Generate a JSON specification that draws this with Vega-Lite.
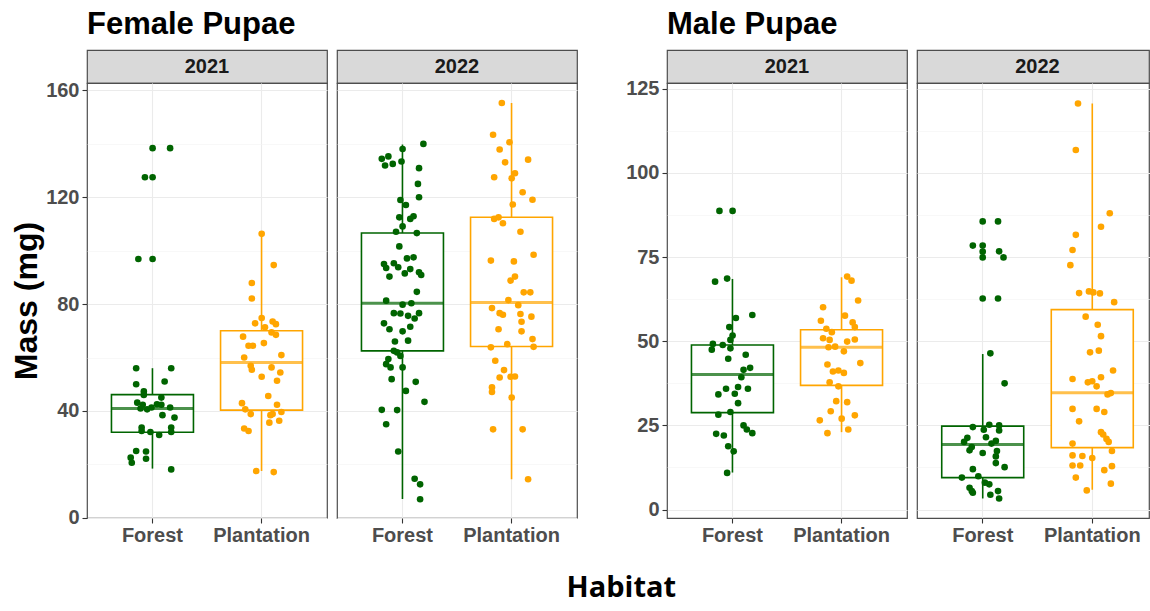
{
  "$schema": "https://vega.github.io/schema/vega-lite/v6.json",
  "padding": {"left": 10, "top": 9, "right": 0, "bottom": 6},
  "background": "white",
  "config": {
    "font": "Liberation Sans",
    "view": {"stroke": "#4D4D4D", "strokeWidth": 1.2},
    "axis": {"labelFont": "Liberation Sans", "labelFontSize": 20, "labelFontWeight": "bold", "labelColor": "#4D4D4D", "tickColor": "#333333", "tickSize": 5, "tickWidth": 1.1, "domain": false, "titleFont": "Liberation Sans", "titleFontWeight": "bold", "titleColor": "#000000"},
    "title": {"font": "Liberation Sans", "fontWeight": "bold", "color": "#000000"}
  },
  "title": {"text": "Habitat", "orient": "bottom", "anchor": "middle", "font": "Open Sans", "fontSize": 29, "offset": 28, "dx": 37},
  "datasets": {
    "boxes": [
      {"sex": "Female", "year": "2021", "habitat": "Forest", "lower": 18.4, "q1": 32, "median": 40.9, "q3": 46.1, "upper": 56},
      {"sex": "Female", "year": "2021", "habitat": "Plantation", "lower": 17.5, "q1": 40.3, "median": 58.1, "q3": 70, "upper": 106.3},
      {"sex": "Female", "year": "2022", "habitat": "Forest", "lower": 7, "q1": 62.5, "median": 80.3, "q3": 106.6, "upper": 139.8},
      {"sex": "Female", "year": "2022", "habitat": "Plantation", "lower": 14.4, "q1": 64.1, "median": 80.6, "q3": 112.5, "upper": 155.3},
      {"sex": "Male", "year": "2021", "habitat": "Forest", "lower": 11, "q1": 28.8, "median": 40.1, "q3": 48.9, "upper": 68.5},
      {"sex": "Male", "year": "2021", "habitat": "Plantation", "lower": 23, "q1": 36.9, "median": 48.2, "q3": 53.4, "upper": 69},
      {"sex": "Male", "year": "2022", "habitat": "Forest", "lower": 3.3, "q1": 9.5, "median": 19.3, "q3": 24.8, "upper": 46.2},
      {"sex": "Male", "year": "2022", "habitat": "Plantation", "lower": 5.9, "q1": 18.4, "median": 34.7, "q3": 59.4, "upper": 120.6}
    ],
    "female_2021": [
      {"habitat": "Forest", "mass": 138.4, "jitter": 0}, {"habitat": "Forest", "mass": 138.4, "jitter": 0.16}, {"habitat": "Forest", "mass": 127.5, "jitter": -0.07}, {"habitat": "Forest", "mass": 127.5, "jitter": 0}, {"habitat": "Forest", "mass": 96.9, "jitter": -0.13}, {"habitat": "Forest", "mass": 96.9, "jitter": 0}, {"habitat": "Forest", "mass": 56, "jitter": -0.15}, {"habitat": "Forest", "mass": 56, "jitter": 0.17}, {"habitat": "Forest", "mass": 50, "jitter": -0.15}, {"habitat": "Forest", "mass": 51, "jitter": 0.11}, {"habitat": "Forest", "mass": 47.3, "jitter": -0.08}, {"habitat": "Forest", "mass": 46, "jitter": -0.08}, {"habitat": "Forest", "mass": 45, "jitter": 0.08}, {"habitat": "Forest", "mass": 43.1, "jitter": -0.14}, {"habitat": "Forest", "mass": 42.3, "jitter": -0.09}, {"habitat": "Forest", "mass": 42.5, "jitter": 0.04}, {"habitat": "Forest", "mass": 42.3, "jitter": 0.08}, {"habitat": "Forest", "mass": 40.9, "jitter": -0.11}, {"habitat": "Forest", "mass": 40.6, "jitter": -0.05}, {"habitat": "Forest", "mass": 41.3, "jitter": -0.01}, {"habitat": "Forest", "mass": 41.3, "jitter": 0.16}, {"habitat": "Forest", "mass": 38.4, "jitter": 0.09}, {"habitat": "Forest", "mass": 37.5, "jitter": 0.2}, {"habitat": "Forest", "mass": 33.8, "jitter": -0.1}, {"habitat": "Forest", "mass": 32.5, "jitter": -0.1}, {"habitat": "Forest", "mass": 32.1, "jitter": -0.02}, {"habitat": "Forest", "mass": 31, "jitter": 0.06}, {"habitat": "Forest", "mass": 33.8, "jitter": 0.17}, {"habitat": "Forest", "mass": 32.1, "jitter": 0.17}, {"habitat": "Forest", "mass": 25, "jitter": -0.15}, {"habitat": "Forest", "mass": 24.8, "jitter": -0.06}, {"habitat": "Forest", "mass": 22.5, "jitter": -0.2}, {"habitat": "Forest", "mass": 22.1, "jitter": -0.06}, {"habitat": "Forest", "mass": 20.6, "jitter": -0.19}, {"habitat": "Forest", "mass": 18.1, "jitter": 0.17},
      {"habitat": "Plantation", "mass": 106.3, "jitter": 0}, {"habitat": "Plantation", "mass": 94.6, "jitter": 0.11}, {"habitat": "Plantation", "mass": 87.9, "jitter": -0.09}, {"habitat": "Plantation", "mass": 82.1, "jitter": -0.09}, {"habitat": "Plantation", "mass": 74.8, "jitter": 0}, {"habitat": "Plantation", "mass": 72.8, "jitter": -0.06}, {"habitat": "Plantation", "mass": 71.3, "jitter": 0.03}, {"habitat": "Plantation", "mass": 73.5, "jitter": 0.1}, {"habitat": "Plantation", "mass": 72.5, "jitter": 0.13}, {"habitat": "Plantation", "mass": 67.8, "jitter": -0.17}, {"habitat": "Plantation", "mass": 69.4, "jitter": 0.09}, {"habitat": "Plantation", "mass": 68.5, "jitter": 0.13}, {"habitat": "Plantation", "mass": 64.4, "jitter": -0.12}, {"habitat": "Plantation", "mass": 64.4, "jitter": -0.08}, {"habitat": "Plantation", "mass": 65.4, "jitter": 0.02}, {"habitat": "Plantation", "mass": 60, "jitter": -0.16}, {"habitat": "Plantation", "mass": 60.9, "jitter": 0.18}, {"habitat": "Plantation", "mass": 56.9, "jitter": -0.1}, {"habitat": "Plantation", "mass": 55.4, "jitter": -0.09}, {"habitat": "Plantation", "mass": 56.3, "jitter": 0.09}, {"habitat": "Plantation", "mass": 54.4, "jitter": 0.17}, {"habitat": "Plantation", "mass": 52.8, "jitter": 0}, {"habitat": "Plantation", "mass": 51.3, "jitter": 0.14}, {"habitat": "Plantation", "mass": 45.6, "jitter": 0.06}, {"habitat": "Plantation", "mass": 42.9, "jitter": -0.18}, {"habitat": "Plantation", "mass": 40.6, "jitter": -0.15}, {"habitat": "Plantation", "mass": 42.3, "jitter": 0.14}, {"habitat": "Plantation", "mass": 38.8, "jitter": -0.1}, {"habitat": "Plantation", "mass": 38.8, "jitter": 0.1}, {"habitat": "Plantation", "mass": 39.6, "jitter": 0.18}, {"habitat": "Plantation", "mass": 38.4, "jitter": 0.08}, {"habitat": "Plantation", "mass": 36.3, "jitter": 0.16}, {"habitat": "Plantation", "mass": 35.6, "jitter": 0.07}, {"habitat": "Plantation", "mass": 33.4, "jitter": -0.16}, {"habitat": "Plantation", "mass": 32.5, "jitter": -0.12}, {"habitat": "Plantation", "mass": 17.5, "jitter": -0.05}, {"habitat": "Plantation", "mass": 17.1, "jitter": 0.11}
    ],
    "female_2022": [
      {"habitat": "Forest", "mass": 140, "jitter": 0.19}, {"habitat": "Forest", "mass": 138.1, "jitter": 0}, {"habitat": "Forest", "mass": 134.4, "jitter": -0.19}, {"habitat": "Forest", "mass": 135.3, "jitter": -0.13}, {"habitat": "Forest", "mass": 131.9, "jitter": -0.16}, {"habitat": "Forest", "mass": 132.5, "jitter": -0.09}, {"habitat": "Forest", "mass": 133.4, "jitter": -0.01}, {"habitat": "Forest", "mass": 130.9, "jitter": 0.15}, {"habitat": "Forest", "mass": 125, "jitter": 0.14}, {"habitat": "Forest", "mass": 120, "jitter": 0.15}, {"habitat": "Forest", "mass": 119, "jitter": -0.02}, {"habitat": "Forest", "mass": 117.1, "jitter": 0.03}, {"habitat": "Forest", "mass": 112.5, "jitter": -0.03}, {"habitat": "Forest", "mass": 111.9, "jitter": 0.07}, {"habitat": "Forest", "mass": 112.9, "jitter": 0.1}, {"habitat": "Forest", "mass": 109.1, "jitter": 0}, {"habitat": "Forest", "mass": 107.1, "jitter": -0.06}, {"habitat": "Forest", "mass": 106.6, "jitter": 0.13}, {"habitat": "Forest", "mass": 101.6, "jitter": -0.03}, {"habitat": "Forest", "mass": 95, "jitter": -0.17}, {"habitat": "Forest", "mass": 95.3, "jitter": -0.08}, {"habitat": "Forest", "mass": 97.1, "jitter": 0.04}, {"habitat": "Forest", "mass": 97.5, "jitter": 0.1}, {"habitat": "Forest", "mass": 93.5, "jitter": -0.15}, {"habitat": "Forest", "mass": 93.8, "jitter": -0.04}, {"habitat": "Forest", "mass": 90.3, "jitter": -0.12}, {"habitat": "Forest", "mass": 91.5, "jitter": 0.02}, {"habitat": "Forest", "mass": 93.1, "jitter": 0.07}, {"habitat": "Forest", "mass": 91.9, "jitter": 0.15}, {"habitat": "Forest", "mass": 90.9, "jitter": 0.17}, {"habitat": "Forest", "mass": 84.6, "jitter": 0.13}, {"habitat": "Forest", "mass": 81.3, "jitter": -0.15}, {"habitat": "Forest", "mass": 79.8, "jitter": 0}, {"habitat": "Forest", "mass": 80.3, "jitter": 0.08}, {"habitat": "Forest", "mass": 76.6, "jitter": -0.08}, {"habitat": "Forest", "mass": 76.5, "jitter": -0.02}, {"habitat": "Forest", "mass": 75.6, "jitter": 0.05}, {"habitat": "Forest", "mass": 76.6, "jitter": 0.15}, {"habitat": "Forest", "mass": 74.6, "jitter": 0.11}, {"habitat": "Forest", "mass": 72.8, "jitter": -0.17}, {"habitat": "Forest", "mass": 70.6, "jitter": -0.12}, {"habitat": "Forest", "mass": 71.5, "jitter": 0.07}, {"habitat": "Forest", "mass": 69.8, "jitter": 0}, {"habitat": "Forest", "mass": 66, "jitter": -0.07}, {"habitat": "Forest", "mass": 66.3, "jitter": 0.05}, {"habitat": "Forest", "mass": 62.5, "jitter": -0.08}, {"habitat": "Forest", "mass": 61.9, "jitter": -0.05}, {"habitat": "Forest", "mass": 60.6, "jitter": -0.02}, {"habitat": "Forest", "mass": 59.4, "jitter": -0.13}, {"habitat": "Forest", "mass": 57.5, "jitter": -0.15}, {"habitat": "Forest", "mass": 56.3, "jitter": -0.11}, {"habitat": "Forest", "mass": 56.3, "jitter": 0}, {"habitat": "Forest", "mass": 51.9, "jitter": -0.1}, {"habitat": "Forest", "mass": 50.9, "jitter": 0.12}, {"habitat": "Forest", "mass": 47.5, "jitter": 0.03}, {"habitat": "Forest", "mass": 43.4, "jitter": 0.2}, {"habitat": "Forest", "mass": 40.4, "jitter": -0.19}, {"habitat": "Forest", "mass": 40.3, "jitter": -0.05}, {"habitat": "Forest", "mass": 35, "jitter": -0.15}, {"habitat": "Forest", "mass": 24.8, "jitter": -0.04}, {"habitat": "Forest", "mass": 14.6, "jitter": 0.11}, {"habitat": "Forest", "mass": 12.5, "jitter": 0.16}, {"habitat": "Forest", "mass": 6.9, "jitter": 0.16},
      {"habitat": "Plantation", "mass": 155.3, "jitter": -0.09}, {"habitat": "Plantation", "mass": 143.4, "jitter": -0.17}, {"habitat": "Plantation", "mass": 140.6, "jitter": -0.02}, {"habitat": "Plantation", "mass": 137.9, "jitter": -0.11}, {"habitat": "Plantation", "mass": 134.1, "jitter": 0.15}, {"habitat": "Plantation", "mass": 133.1, "jitter": -0.06}, {"habitat": "Plantation", "mass": 129, "jitter": 0.03}, {"habitat": "Plantation", "mass": 127.5, "jitter": -0.16}, {"habitat": "Plantation", "mass": 127.1, "jitter": 0}, {"habitat": "Plantation", "mass": 121.9, "jitter": 0.1}, {"habitat": "Plantation", "mass": 119.1, "jitter": 0.19}, {"habitat": "Plantation", "mass": 117.3, "jitter": 0.01}, {"habitat": "Plantation", "mass": 111.9, "jitter": -0.16}, {"habitat": "Plantation", "mass": 112.5, "jitter": -0.12}, {"habitat": "Plantation", "mass": 110.3, "jitter": -0.08}, {"habitat": "Plantation", "mass": 107.1, "jitter": 0.08}, {"habitat": "Plantation", "mass": 98.5, "jitter": 0.2}, {"habitat": "Plantation", "mass": 96.3, "jitter": -0.19}, {"habitat": "Plantation", "mass": 96, "jitter": 0.02}, {"habitat": "Plantation", "mass": 90.3, "jitter": 0.03}, {"habitat": "Plantation", "mass": 88.8, "jitter": -0.01}, {"habitat": "Plantation", "mass": 84.4, "jitter": 0.11}, {"habitat": "Plantation", "mass": 84.4, "jitter": 0.17}, {"habitat": "Plantation", "mass": 81.5, "jitter": -0.03}, {"habitat": "Plantation", "mass": 79.6, "jitter": 0.06}, {"habitat": "Plantation", "mass": 78.5, "jitter": -0.18}, {"habitat": "Plantation", "mass": 76.6, "jitter": -0.11}, {"habitat": "Plantation", "mass": 76, "jitter": -0.08}, {"habitat": "Plantation", "mass": 76.3, "jitter": 0.08}, {"habitat": "Plantation", "mass": 75.3, "jitter": 0.18}, {"habitat": "Plantation", "mass": 73.4, "jitter": 0.09}, {"habitat": "Plantation", "mass": 70.6, "jitter": -0.12}, {"habitat": "Plantation", "mass": 69.8, "jitter": 0.09}, {"habitat": "Plantation", "mass": 66.9, "jitter": 0.19}, {"habitat": "Plantation", "mass": 65, "jitter": -0.04}, {"habitat": "Plantation", "mass": 63.8, "jitter": -0.19}, {"habitat": "Plantation", "mass": 64, "jitter": 0.2}, {"habitat": "Plantation", "mass": 58.8, "jitter": -0.15}, {"habitat": "Plantation", "mass": 55.3, "jitter": -0.07}, {"habitat": "Plantation", "mass": 52.5, "jitter": -0.11}, {"habitat": "Plantation", "mass": 52.8, "jitter": -0.01}, {"habitat": "Plantation", "mass": 52.9, "jitter": 0.03}, {"habitat": "Plantation", "mass": 48.8, "jitter": -0.18}, {"habitat": "Plantation", "mass": 47.1, "jitter": -0.18}, {"habitat": "Plantation", "mass": 45, "jitter": 0}, {"habitat": "Plantation", "mass": 33.1, "jitter": -0.17}, {"habitat": "Plantation", "mass": 33.1, "jitter": 0.1}, {"habitat": "Plantation", "mass": 14.4, "jitter": 0.15}
    ],
    "male_2021": [
      {"habitat": "Forest", "mass": 88.7, "jitter": -0.12}, {"habitat": "Forest", "mass": 88.7, "jitter": 0}, {"habitat": "Forest", "mass": 67.7, "jitter": -0.16}, {"habitat": "Forest", "mass": 68.6, "jitter": -0.05}, {"habitat": "Forest", "mass": 57.8, "jitter": 0.18}, {"habitat": "Forest", "mass": 56.9, "jitter": 0.03}, {"habitat": "Forest", "mass": 54.2, "jitter": -0.03}, {"habitat": "Forest", "mass": 51.7, "jitter": 0}, {"habitat": "Forest", "mass": 50.4, "jitter": -0.02}, {"habitat": "Forest", "mass": 49.2, "jitter": -0.18}, {"habitat": "Forest", "mass": 48.9, "jitter": -0.09}, {"habitat": "Forest", "mass": 47.5, "jitter": -0.19}, {"habitat": "Forest", "mass": 47.9, "jitter": -0.02}, {"habitat": "Forest", "mass": 46, "jitter": 0.12}, {"habitat": "Forest", "mass": 44.8, "jitter": -0.04}, {"habitat": "Forest", "mass": 42.1, "jitter": 0.16}, {"habitat": "Forest", "mass": 41.5, "jitter": 0.1}, {"habitat": "Forest", "mass": 39.3, "jitter": 0.08}, {"habitat": "Forest", "mass": 35.9, "jitter": -0.06}, {"habitat": "Forest", "mass": 36.4, "jitter": 0.05}, {"habitat": "Forest", "mass": 35.9, "jitter": 0.14}, {"habitat": "Forest", "mass": 34.2, "jitter": -0.13}, {"habitat": "Forest", "mass": 34.4, "jitter": 0.02}, {"habitat": "Forest", "mass": 31.6, "jitter": 0.05}, {"habitat": "Forest", "mass": 29, "jitter": -0.02}, {"habitat": "Forest", "mass": 28.2, "jitter": -0.13}, {"habitat": "Forest", "mass": 25, "jitter": 0.1}, {"habitat": "Forest", "mass": 23.8, "jitter": 0.13}, {"habitat": "Forest", "mass": 22.7, "jitter": 0.18}, {"habitat": "Forest", "mass": 22.5, "jitter": -0.15}, {"habitat": "Forest", "mass": 22, "jitter": -0.08}, {"habitat": "Forest", "mass": 18.8, "jitter": -0.04}, {"habitat": "Forest", "mass": 17.3, "jitter": 0.01}, {"habitat": "Forest", "mass": 10.9, "jitter": -0.05},
      {"habitat": "Plantation", "mass": 69.2, "jitter": 0.05}, {"habitat": "Plantation", "mass": 68, "jitter": 0.09}, {"habitat": "Plantation", "mass": 62.1, "jitter": 0.15}, {"habitat": "Plantation", "mass": 60.1, "jitter": -0.17}, {"habitat": "Plantation", "mass": 57.6, "jitter": 0.03}, {"habitat": "Plantation", "mass": 56.1, "jitter": -0.19}, {"habitat": "Plantation", "mass": 55.6, "jitter": 0.1}, {"habitat": "Plantation", "mass": 54.2, "jitter": 0.12}, {"habitat": "Plantation", "mass": 53.7, "jitter": -0.14}, {"habitat": "Plantation", "mass": 52.7, "jitter": -0.09}, {"habitat": "Plantation", "mass": 50.9, "jitter": -0.17}, {"habitat": "Plantation", "mass": 50.4, "jitter": -0.11}, {"habitat": "Plantation", "mass": 49.9, "jitter": 0.05}, {"habitat": "Plantation", "mass": 50.5, "jitter": 0.12}, {"habitat": "Plantation", "mass": 48.2, "jitter": -0.12}, {"habitat": "Plantation", "mass": 48.4, "jitter": -0.06}, {"habitat": "Plantation", "mass": 47, "jitter": 0.02}, {"habitat": "Plantation", "mass": 43.5, "jitter": 0.17}, {"habitat": "Plantation", "mass": 43.1, "jitter": -0.13}, {"habitat": "Plantation", "mass": 41, "jitter": -0.08}, {"habitat": "Plantation", "mass": 41.3, "jitter": -0.03}, {"habitat": "Plantation", "mass": 40.6, "jitter": 0.02}, {"habitat": "Plantation", "mass": 37.8, "jitter": -0.11}, {"habitat": "Plantation", "mass": 36.6, "jitter": -0.03}, {"habitat": "Plantation", "mass": 32.2, "jitter": -0.05}, {"habitat": "Plantation", "mass": 31.9, "jitter": 0.05}, {"habitat": "Plantation", "mass": 29.2, "jitter": -0.1}, {"habitat": "Plantation", "mass": 28, "jitter": 0.12}, {"habitat": "Plantation", "mass": 26.5, "jitter": -0.2}, {"habitat": "Plantation", "mass": 27, "jitter": 0}, {"habitat": "Plantation", "mass": 22.7, "jitter": -0.13}, {"habitat": "Plantation", "mass": 23.8, "jitter": 0.06}
    ],
    "male_2022": [
      {"habitat": "Forest", "mass": 85.6, "jitter": 0}, {"habitat": "Forest", "mass": 85.6, "jitter": 0.14}, {"habitat": "Forest", "mass": 78.4, "jitter": -0.09}, {"habitat": "Forest", "mass": 78.4, "jitter": 0}, {"habitat": "Forest", "mass": 76.6, "jitter": 0}, {"habitat": "Forest", "mass": 76.7, "jitter": 0.15}, {"habitat": "Forest", "mass": 74.9, "jitter": 0}, {"habitat": "Forest", "mass": 74.9, "jitter": 0.19}, {"habitat": "Forest", "mass": 62.7, "jitter": 0}, {"habitat": "Forest", "mass": 62.7, "jitter": 0.14}, {"habitat": "Forest", "mass": 46.4, "jitter": 0.07}, {"habitat": "Forest", "mass": 37.5, "jitter": 0.2}, {"habitat": "Forest", "mass": 24.5, "jitter": -0.09}, {"habitat": "Forest", "mass": 23.7, "jitter": 0.01}, {"habitat": "Forest", "mass": 25.2, "jitter": 0.06}, {"habitat": "Forest", "mass": 25, "jitter": 0.15}, {"habitat": "Forest", "mass": 23.5, "jitter": 0.15}, {"habitat": "Forest", "mass": 21.5, "jitter": 0.03}, {"habitat": "Forest", "mass": 21.3, "jitter": -0.14}, {"habitat": "Forest", "mass": 20.1, "jitter": -0.17}, {"habitat": "Forest", "mass": 20.4, "jitter": 0.12}, {"habitat": "Forest", "mass": 19.6, "jitter": 0.08}, {"habitat": "Forest", "mass": 18.6, "jitter": -0.1}, {"habitat": "Forest", "mass": 17.6, "jitter": -0.12}, {"habitat": "Forest", "mass": 17.4, "jitter": 0.13}, {"habitat": "Forest", "mass": 16.8, "jitter": 0}, {"habitat": "Forest", "mass": 15.8, "jitter": 0.12}, {"habitat": "Forest", "mass": 13.8, "jitter": 0.12}, {"habitat": "Forest", "mass": 12.6, "jitter": 0.2}, {"habitat": "Forest", "mass": 12, "jitter": -0.09}, {"habitat": "Forest", "mass": 9.9, "jitter": -0.04}, {"habitat": "Forest", "mass": 9.5, "jitter": -0.19}, {"habitat": "Forest", "mass": 8, "jitter": 0.02}, {"habitat": "Forest", "mass": 7.5, "jitter": 0.06}, {"habitat": "Forest", "mass": 6.5, "jitter": -0.12}, {"habitat": "Forest", "mass": 5.5, "jitter": -0.1}, {"habitat": "Forest", "mass": 5, "jitter": -0.09}, {"habitat": "Forest", "mass": 5.5, "jitter": 0.14}, {"habitat": "Forest", "mass": 4.4, "jitter": 0.07}, {"habitat": "Forest", "mass": 3.3, "jitter": 0.15},
      {"habitat": "Plantation", "mass": 120.6, "jitter": -0.13}, {"habitat": "Plantation", "mass": 106.8, "jitter": -0.15}, {"habitat": "Plantation", "mass": 88, "jitter": 0.16}, {"habitat": "Plantation", "mass": 84, "jitter": 0.08}, {"habitat": "Plantation", "mass": 81.6, "jitter": -0.15}, {"habitat": "Plantation", "mass": 77.1, "jitter": -0.18}, {"habitat": "Plantation", "mass": 72.6, "jitter": -0.2}, {"habitat": "Plantation", "mass": 64.3, "jitter": -0.12}, {"habitat": "Plantation", "mass": 64.8, "jitter": -0.03}, {"habitat": "Plantation", "mass": 64.5, "jitter": 0.01}, {"habitat": "Plantation", "mass": 64.2, "jitter": 0.07}, {"habitat": "Plantation", "mass": 61.6, "jitter": 0.2}, {"habitat": "Plantation", "mass": 57.3, "jitter": -0.06}, {"habitat": "Plantation", "mass": 54.9, "jitter": 0.05}, {"habitat": "Plantation", "mass": 51.5, "jitter": 0.08}, {"habitat": "Plantation", "mass": 46.7, "jitter": -0.02}, {"habitat": "Plantation", "mass": 47.2, "jitter": 0.06}, {"habitat": "Plantation", "mass": 38.8, "jitter": -0.18}, {"habitat": "Plantation", "mass": 37.8, "jitter": -0.04}, {"habitat": "Plantation", "mass": 38.1, "jitter": 0}, {"habitat": "Plantation", "mass": 36.6, "jitter": 0.04}, {"habitat": "Plantation", "mass": 39.3, "jitter": 0.08}, {"habitat": "Plantation", "mass": 41.3, "jitter": 0.19}, {"habitat": "Plantation", "mass": 34.2, "jitter": 0.14}, {"habitat": "Plantation", "mass": 34.6, "jitter": 0.17}, {"habitat": "Plantation", "mass": 29.9, "jitter": -0.18}, {"habitat": "Plantation", "mass": 29.9, "jitter": 0.04}, {"habitat": "Plantation", "mass": 29, "jitter": 0.11}, {"habitat": "Plantation", "mass": 26.2, "jitter": -0.12}, {"habitat": "Plantation", "mass": 23, "jitter": 0.08}, {"habitat": "Plantation", "mass": 22.3, "jitter": 0.1}, {"habitat": "Plantation", "mass": 21, "jitter": 0.13}, {"habitat": "Plantation", "mass": 20.1, "jitter": 0.15}, {"habitat": "Plantation", "mass": 19.6, "jitter": -0.18}, {"habitat": "Plantation", "mass": 17.4, "jitter": 0.18}, {"habitat": "Plantation", "mass": 16.1, "jitter": -0.18}, {"habitat": "Plantation", "mass": 15.9, "jitter": -0.09}, {"habitat": "Plantation", "mass": 15.3, "jitter": 0}, {"habitat": "Plantation", "mass": 13.1, "jitter": -0.18}, {"habitat": "Plantation", "mass": 13.1, "jitter": -0.11}, {"habitat": "Plantation", "mass": 11.7, "jitter": 0.11}, {"habitat": "Plantation", "mass": 12.9, "jitter": 0.18}, {"habitat": "Plantation", "mass": 9.5, "jitter": -0.15}, {"habitat": "Plantation", "mass": 7.7, "jitter": 0.17}, {"habitat": "Plantation", "mass": 5.7, "jitter": -0.05}
    ]
  },
  "spacing": 47,
  "hconcat": [
    {
      "title": {"text": "Female Pupae", "anchor": "start", "frame": "group", "fontSize": 31, "offset": 8},
      "spacing": 8,
      "hconcat": [
        {
          "spacing": 0, "bounds": "flush",
          "vconcat": [
            {"width": 240, "height": 33, "data": {"values": [{"year": "2021"}]}, "mark": {"type": "text", "fontSize": 20, "fontWeight": "bold", "color": "#1A1A1A", "align": "center", "baseline": "middle"}, "encoding": {"text": {"field": "year", "type": "nominal"}}, "view": {"fill": "#D9D9D9", "stroke": "#4D4D4D", "strokeWidth": 1.2}},
            {"width": 240, "height": 435,
             "encoding": {"x": {"field": "habitat", "type": "nominal", "scale": {"type": "band", "domain": ["Forest", "Plantation"], "paddingInner": 0.25, "paddingOuter": 0.225}, "axis": {"title": null, "grid": true, "gridColor": "#EBEBEB", "gridWidth": 1.1, "labelAngle": 0, "labelPadding": 2}}},
             "layer": [
              {"data": {"name": "boxes"}, "transform": [{"filter": "datum.sex === 'Female' && datum.year === '2021'"}], "mark": {"type": "rule", "strokeWidth": 1.6},
               "encoding": {"y": {"field": "lower", "type": "quantitative", "scale": {"domain": [-0.1, 162.8], "nice": false, "zero": false}, "axis": {"title": "Mass (mg)", "titleFontSize": 32, "titlePadding": 2, "values": [0, 20, 40, 60, 80, 100, 120, 140, 160], "labelExpr": "datum.value % 40 === 0 ? datum.label : ''", "labelOverlap": false, "labelPadding": 3, "gridColor": {"condition": {"test": "datum.value % 40 === 0", "value": "#EBEBEB"}, "value": "#F3F3F3"}, "gridWidth": {"condition": {"test": "datum.value % 40 === 0", "value": 1.1}, "value": 0.6}, "tickColor": {"condition": {"test": "datum.value % 40 === 0", "value": "#333333"}, "value": "transparent"}}}, "y2": {"field": "upper"}, "color": {"field": "habitat", "type": "nominal", "scale": {"domain": ["Forest", "Plantation"], "range": ["#006400", "#FFA500"]}, "legend": null}}},
              {"data": {"name": "boxes"}, "transform": [{"filter": "datum.sex === 'Female' && datum.year === '2021'"}], "mark": {"type": "bar", "fill": "white", "strokeWidth": 1.6, "width": 82},
               "encoding": {"y": {"field": "q1", "type": "quantitative"}, "y2": {"field": "q3"}, "stroke": {"field": "habitat", "type": "nominal", "scale": {"domain": ["Forest", "Plantation"], "range": ["#006400", "#FFA500"]}, "legend": null}}},
              {"data": {"name": "boxes"}, "transform": [{"filter": "datum.sex === 'Female' && datum.year === '2021'"}], "mark": {"type": "tick", "size": 82, "thickness": 3},
               "encoding": {"y": {"field": "median", "type": "quantitative"}, "color": {"field": "habitat", "type": "nominal", "legend": null}}},
              {"data": {"name": "female_2021"}, "mark": {"type": "point", "filled": true, "size": 44, "opacity": 1},
               "encoding": {"xOffset": {"field": "jitter", "type": "quantitative", "scale": {"domain": [-0.5, 0.5], "range": [-13.7, 95.8], "nice": false, "zero": false}}, "y": {"field": "mass", "type": "quantitative"}, "color": {"field": "habitat", "type": "nominal", "legend": null}}}
             ]}
          ]
        },
        {
          "spacing": 0, "bounds": "flush",
          "vconcat": [
            {"width": 240, "height": 33, "data": {"values": [{"year": "2022"}]}, "mark": {"type": "text", "fontSize": 20, "fontWeight": "bold", "color": "#1A1A1A", "align": "center", "baseline": "middle"}, "encoding": {"text": {"field": "year", "type": "nominal"}}, "view": {"fill": "#D9D9D9", "stroke": "#4D4D4D", "strokeWidth": 1.2}},
            {"width": 240, "height": 435,
             "encoding": {"x": {"field": "habitat", "type": "nominal", "scale": {"type": "band", "domain": ["Forest", "Plantation"], "paddingInner": 0.25, "paddingOuter": 0.225}, "axis": {"title": null, "grid": true, "gridColor": "#EBEBEB", "gridWidth": 1.1, "labelAngle": 0, "labelPadding": 2}}},
             "layer": [
              {"data": {"name": "boxes"}, "transform": [{"filter": "datum.sex === 'Female' && datum.year === '2022'"}], "mark": {"type": "rule", "strokeWidth": 1.6},
               "encoding": {"y": {"field": "lower", "type": "quantitative", "scale": {"domain": [-0.1, 162.8], "nice": false, "zero": false}, "axis": {"title": null, "labels": false, "ticks": false, "values": [0, 20, 40, 60, 80, 100, 120, 140, 160], "gridColor": {"condition": {"test": "datum.value % 40 === 0", "value": "#EBEBEB"}, "value": "#F3F3F3"}, "gridWidth": {"condition": {"test": "datum.value % 40 === 0", "value": 1.1}, "value": 0.6}}}, "y2": {"field": "upper"}, "color": {"field": "habitat", "type": "nominal", "scale": {"domain": ["Forest", "Plantation"], "range": ["#006400", "#FFA500"]}, "legend": null}}},
              {"data": {"name": "boxes"}, "transform": [{"filter": "datum.sex === 'Female' && datum.year === '2022'"}], "mark": {"type": "bar", "fill": "white", "strokeWidth": 1.6, "width": 82},
               "encoding": {"y": {"field": "q1", "type": "quantitative"}, "y2": {"field": "q3"}, "stroke": {"field": "habitat", "type": "nominal", "scale": {"domain": ["Forest", "Plantation"], "range": ["#006400", "#FFA500"]}, "legend": null}}},
              {"data": {"name": "boxes"}, "transform": [{"filter": "datum.sex === 'Female' && datum.year === '2022'"}], "mark": {"type": "tick", "size": 82, "thickness": 3},
               "encoding": {"y": {"field": "median", "type": "quantitative"}, "color": {"field": "habitat", "type": "nominal", "legend": null}}},
              {"data": {"name": "female_2022"}, "mark": {"type": "point", "filled": true, "size": 44, "opacity": 1},
               "encoding": {"xOffset": {"field": "jitter", "type": "quantitative", "scale": {"domain": [-0.5, 0.5], "range": [-13.7, 95.8], "nice": false, "zero": false}}, "y": {"field": "mass", "type": "quantitative"}, "color": {"field": "habitat", "type": "nominal", "legend": null}}}
             ]}
          ]
        }
      ]
    },
    {
      "title": {"text": "Male Pupae", "anchor": "start", "frame": "group", "fontSize": 31, "offset": 8},
      "spacing": 8,
      "hconcat": [
        {
          "spacing": 0, "bounds": "flush",
          "vconcat": [
            {"width": 240, "height": 33, "data": {"values": [{"year": "2021"}]}, "mark": {"type": "text", "fontSize": 20, "fontWeight": "bold", "color": "#1A1A1A", "align": "center", "baseline": "middle"}, "encoding": {"text": {"field": "year", "type": "nominal"}}, "view": {"fill": "#D9D9D9", "stroke": "#4D4D4D", "strokeWidth": 1.2}},
            {"width": 240, "height": 435,
             "encoding": {"x": {"field": "habitat", "type": "nominal", "scale": {"type": "band", "domain": ["Forest", "Plantation"], "paddingInner": 0.25, "paddingOuter": 0.225}, "axis": {"title": null, "grid": true, "gridColor": "#EBEBEB", "gridWidth": 1.1, "labelAngle": 0, "labelPadding": 2}}},
             "layer": [
              {"data": {"name": "boxes"}, "transform": [{"filter": "datum.sex === 'Male' && datum.year === '2021'"}], "mark": {"type": "rule", "strokeWidth": 1.6},
               "encoding": {"y": {"field": "lower", "type": "quantitative", "scale": {"domain": [-2.5, 126.7], "nice": false, "zero": false}, "axis": {"title": null, "values": [0, 12.5, 25, 37.5, 50, 62.5, 75, 87.5, 100, 112.5, 125], "labelExpr": "datum.value % 25 === 0 ? datum.label : ''", "labelOverlap": false, "labelPadding": 3, "gridColor": {"condition": {"test": "datum.value % 25 === 0", "value": "#EBEBEB"}, "value": "#F3F3F3"}, "gridWidth": {"condition": {"test": "datum.value % 25 === 0", "value": 1.1}, "value": 0.6}, "tickColor": {"condition": {"test": "datum.value % 25 === 0", "value": "#333333"}, "value": "transparent"}}}, "y2": {"field": "upper"}, "color": {"field": "habitat", "type": "nominal", "scale": {"domain": ["Forest", "Plantation"], "range": ["#006400", "#FFA500"]}, "legend": null}}},
              {"data": {"name": "boxes"}, "transform": [{"filter": "datum.sex === 'Male' && datum.year === '2021'"}], "mark": {"type": "bar", "fill": "white", "strokeWidth": 1.6, "width": 82},
               "encoding": {"y": {"field": "q1", "type": "quantitative"}, "y2": {"field": "q3"}, "stroke": {"field": "habitat", "type": "nominal", "scale": {"domain": ["Forest", "Plantation"], "range": ["#006400", "#FFA500"]}, "legend": null}}},
              {"data": {"name": "boxes"}, "transform": [{"filter": "datum.sex === 'Male' && datum.year === '2021'"}], "mark": {"type": "tick", "size": 82, "thickness": 3},
               "encoding": {"y": {"field": "median", "type": "quantitative"}, "color": {"field": "habitat", "type": "nominal", "legend": null}}},
              {"data": {"name": "male_2021"}, "mark": {"type": "point", "filled": true, "size": 44, "opacity": 1},
               "encoding": {"xOffset": {"field": "jitter", "type": "quantitative", "scale": {"domain": [-0.5, 0.5], "range": [-13.7, 95.8], "nice": false, "zero": false}}, "y": {"field": "mass", "type": "quantitative"}, "color": {"field": "habitat", "type": "nominal", "legend": null}}}
             ]}
          ]
        },
        {
          "spacing": 0, "bounds": "flush",
          "vconcat": [
            {"width": 232, "height": 33, "data": {"values": [{"year": "2022"}]}, "mark": {"type": "text", "fontSize": 20, "fontWeight": "bold", "color": "#1A1A1A", "align": "center", "baseline": "middle"}, "encoding": {"text": {"field": "year", "type": "nominal"}, "x": {"datum": 0.5, "type": "quantitative", "scale": {"domain": [0, 1], "range": [0, 241]}, "axis": null}}, "view": {"fill": "#D9D9D9", "stroke": "#4D4D4D", "strokeWidth": 1.2}},
            {"width": 232, "height": 435,
             "encoding": {"x": {"field": "habitat", "type": "nominal", "scale": {"type": "band", "domain": ["Forest", "Plantation"], "paddingInner": 0.25, "paddingOuter": 0.225, "range": [0, 241]}, "axis": {"title": null, "grid": true, "gridColor": "#EBEBEB", "gridWidth": 1.1, "labelAngle": 0, "labelPadding": 2}}},
             "layer": [
              {"data": {"name": "boxes"}, "transform": [{"filter": "datum.sex === 'Male' && datum.year === '2022'"}], "mark": {"type": "rule", "strokeWidth": 1.6},
               "encoding": {"y": {"field": "lower", "type": "quantitative", "scale": {"domain": [-2.5, 126.7], "nice": false, "zero": false}, "axis": {"title": null, "labels": false, "ticks": false, "values": [0, 12.5, 25, 37.5, 50, 62.5, 75, 87.5, 100, 112.5, 125], "gridColor": {"condition": {"test": "datum.value % 25 === 0", "value": "#EBEBEB"}, "value": "#F3F3F3"}, "gridWidth": {"condition": {"test": "datum.value % 25 === 0", "value": 1.1}, "value": 0.6}}}, "y2": {"field": "upper"}, "color": {"field": "habitat", "type": "nominal", "scale": {"domain": ["Forest", "Plantation"], "range": ["#006400", "#FFA500"]}, "legend": null}}},
              {"data": {"name": "boxes"}, "transform": [{"filter": "datum.sex === 'Male' && datum.year === '2022'"}], "mark": {"type": "bar", "fill": "white", "strokeWidth": 1.6, "width": 82},
               "encoding": {"y": {"field": "q1", "type": "quantitative"}, "y2": {"field": "q3"}, "stroke": {"field": "habitat", "type": "nominal", "scale": {"domain": ["Forest", "Plantation"], "range": ["#006400", "#FFA500"]}, "legend": null}}},
              {"data": {"name": "boxes"}, "transform": [{"filter": "datum.sex === 'Male' && datum.year === '2022'"}], "mark": {"type": "tick", "size": 82, "thickness": 3},
               "encoding": {"y": {"field": "median", "type": "quantitative"}, "color": {"field": "habitat", "type": "nominal", "legend": null}}},
              {"data": {"name": "male_2022"}, "mark": {"type": "point", "filled": true, "size": 44, "opacity": 1},
               "encoding": {"xOffset": {"field": "jitter", "type": "quantitative", "scale": {"domain": [-0.5, 0.5], "range": [-13.7, 95.8], "nice": false, "zero": false}}, "y": {"field": "mass", "type": "quantitative"}, "color": {"field": "habitat", "type": "nominal", "legend": null}}}
             ]}
          ]
        }
      ]
    }
  ]
}
